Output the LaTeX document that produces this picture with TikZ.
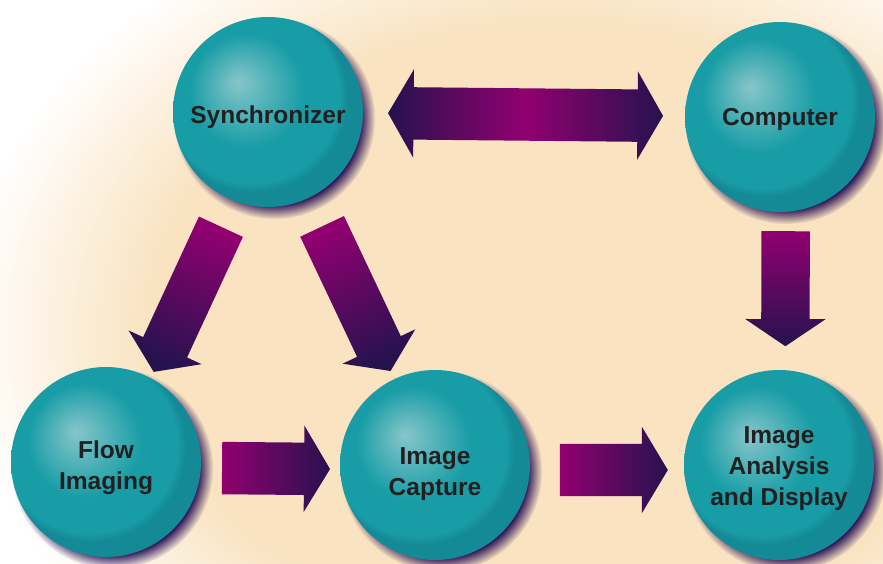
\documentclass[tikz,border=0pt]{standalone}
\usepackage{fontspec}
\setmainfont{Liberation Sans}
\usetikzlibrary{shapes.arrows,shadows,fadings}

\definecolor{peach}{RGB}{249,227,192}
\definecolor{ballHi}{RGB}{135,198,202}
\definecolor{ballMid}{RGB}{24,157,166}
\definecolor{ballRim}{RGB}{20,138,150}
\definecolor{halo}{RGB}{45,20,88}
\definecolor{pipePink}{RGB}{145,0,112}
\definecolor{pipeDark}{RGB}{38,18,78}
\definecolor{ink}{RGB}{35,31,32}

\pgfdeclareradialshading{sphereshade}{\pgfpoint{-8bp}{8bp}}{color(0bp)=(ballHi); color(15bp)=(ballMid); color(23bp)=(ballMid); color(25bp)=(ballRim); color(50bp)=(ballRim)}
\pgfdeclareradialshading{backdrop}{\pgfpointorigin}{color(0bp)=(peach); color(17bp)=(peach); color(25bp)=(white); color(50bp)=(white)}

\tikzset{
  ball/.style={circle, minimum size=190pt, inner sep=0pt, shade, shading=sphereshade,
    circular drop shadow={shadow xshift=6pt, shadow yshift=-6pt, shadow scale=1.06, fill=halo, opacity=1}},
  balltext/.style={text=ink, font=\bfseries\fontsize{24.5}{31}\selectfont, align=center, inner sep=0pt},
  pipe/.style={single arrow, inner xsep=0pt, inner ysep=26pt, single arrow head extend=17pt,
    single arrow tip angle=118, single arrow head indent=0pt, sloped, allow upside down,
    top color=pipePink, bottom color=pipeDark},
  thinpipe/.style={pipe, inner ysep=24pt, single arrow head extend=16pt, single arrow tip angle=112},
  twopipe/.style={double arrow, inner xsep=0pt, inner ysep=26pt, double arrow head extend=18pt,
    double arrow tip angle=120, double arrow head indent=0pt, sloped,
    left color=pipeDark, right color=pipeDark, middle color=pipePink}
}

\begin{document}
\begin{tikzpicture}[x=1pt,y=1pt]
\useasboundingbox (0,0) rectangle (883,563);

% Backdrop
\fill[white] (0,0) rectangle (883,563);
\begin{scope}
\clip (0,0) rectangle (883,563);
\shade[shading=backdrop] (560,233) ellipse (600 and 450);
\end{scope}

% Spheres
\node[ball] (sync) at (268,451) {};
\node[ball] (comp) at (780,446) {};
\node[ball] (flow) at (106,101) {};
\node[ball] (capture) at (435,98) {};
\node[ball] (analysis) at (779,98) {};

% Text Node
\node[balltext] (synclabel) at ([yshift=-5pt]sync.center) {Synchronizer};
% Text Node
\node[balltext] (complabel) at ([yshift=-2pt]comp.center) {Computer};
% Text Node
\node[balltext] (flowlabel) at ([yshift=-6pt]flow.center) {Flow\\Imaging};
% Text Node
\node[balltext] (capturelabel) at ([yshift=-9pt]capture.center) {Image\\Capture};
% Text Node
\node[balltext] (analysislabel) at ([yshift=-4pt]analysis.center) {Image\\Analysis\\and Display};

% Connection
\path (sync.center) -- (comp.center) node[twopipe, pos=.503, minimum height=275pt] (link) {};
% Connection
\path ([xshift=6pt]sync.center) -- ([xshift=6pt]flow.center) node[thinpipe, pos=.514, minimum height=160pt, shading angle=-24.8] (trigflow) {};
% Connection
\path (sync.center) -- (capture.center) node[thinpipe, pos=.508, minimum height=160pt, shading angle=25.3] (trigcap) {};
% Connection
\path (flow.center) -- (capture.center) node[pipe, pos=.493, yshift=-5pt, minimum height=108pt, shading angle=90] (feed) {};
% Connection
\path (capture.center) -- (analysis.center) node[pipe, pos=.497, yshift=-5pt, minimum height=108pt, shading angle=90] (store) {};
% Connection
\path ([xshift=6pt]comp.center) -- ([xshift=6pt]analysis.center) node[thinpipe, pos=.47, minimum height=115pt] (control) {};

\end{tikzpicture}
\end{document}
